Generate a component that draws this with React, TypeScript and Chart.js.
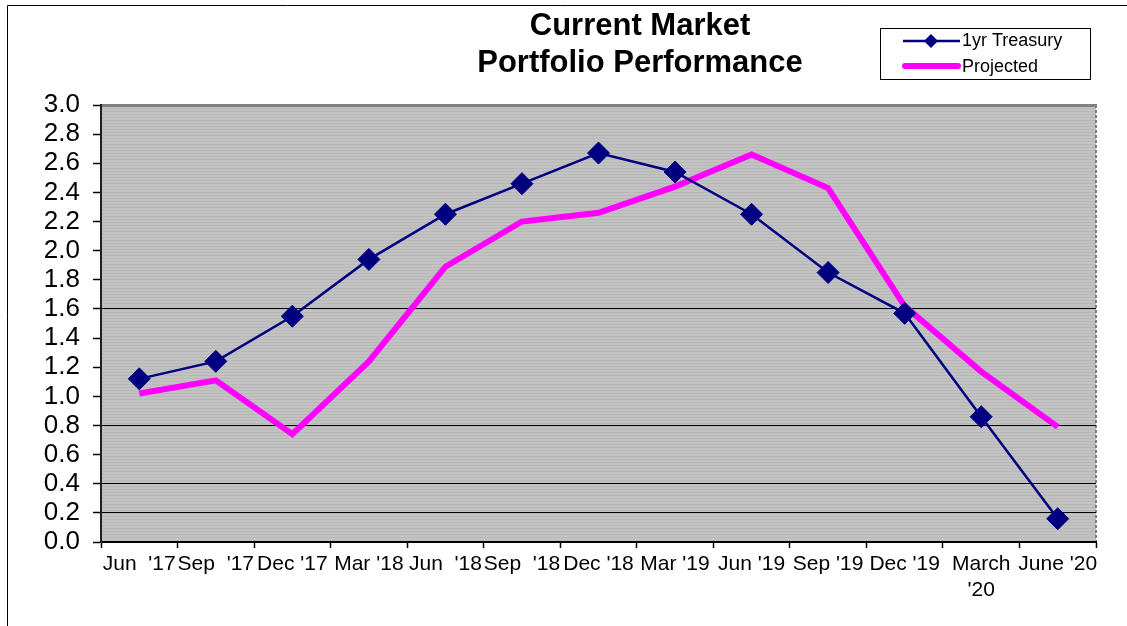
import React, { useEffect, useRef } from "react";
import { Chart, registerables } from "chart.js";

Chart.register(...registerables);

const categories: (string | string[])[] = [
  "Jun  '17", "Sep  '17", "Dec '17", "Mar '18", "Jun  '18", "Sep  '18", "Dec '18",
  "Mar '19", "Jun '19", "Sep '19", "Dec '19", ["March", "'20"], "June '20",
];
const treasury = [1.12, 1.24, 1.55, 1.94, 2.25, 2.46, 2.67, 2.54, 2.25, 1.85, 1.57, 0.86, 0.16];
const projected = [1.02, 1.11, 0.74, 1.24, 1.89, 2.2, 2.26, 2.44, 2.66, 2.43, 1.62, 1.17, 0.79];
const gridValues = [0.2, 0.4, 0.8, 1.6];
const titleLines = ["Current Market", "Portfolio Performance"];
const seriesNames = ["1yr Treasury", "Projected"];

const FONT = "'Liberation Sans', Arial, sans-serif";
const NAVY = "#000080";
const MAGENTA = "#FF00FF";

const decorPlugin = {
  id: "decor",
  beforeDraw(chart: any) {
    const { ctx, chartArea: a } = chart;
    ctx.save();
    ctx.fillStyle = "#C2C2C2";
    ctx.fillRect(a.left, a.top, a.right - a.left, a.bottom - a.top);
    ctx.fillStyle = "#B8B8B8";
    for (let y = a.top; y < a.bottom; y += 3) {
      ctx.fillRect(a.left, y, a.right - a.left, 1);
    }
    ctx.strokeStyle = "#808080";
    ctx.lineWidth = 3;
    ctx.beginPath();
    ctx.moveTo(a.left, a.top + 0.5);
    ctx.lineTo(a.right + 1, a.top + 0.5);
    ctx.stroke();
    ctx.lineWidth = 2;
    ctx.setLineDash([3, 2]);
    ctx.beginPath();
    ctx.moveTo(a.right, a.top);
    ctx.lineTo(a.right, a.bottom);
    ctx.stroke();
    ctx.setLineDash([]);
    ctx.strokeStyle = "#000";
    ctx.lineWidth = 1;
    ctx.beginPath();
    ctx.moveTo(7.5, 626);
    ctx.lineTo(7.5, 5.5);
    ctx.lineTo(1127, 5.5);
    ctx.stroke();
    ctx.restore();
  },
  afterDraw(chart: any) {
    const { ctx } = chart;
    ctx.save();
    ctx.fillStyle = "#000";
    ctx.font = `bold 31px ${FONT}`;
    ctx.textAlign = "center";
    ctx.textBaseline = "middle";
    ctx.fillText(titleLines[0], 640, 26);
    ctx.fillText(titleLines[1], 640, 63);
    ctx.strokeStyle = "#000";
    ctx.lineWidth = 1;
    ctx.fillStyle = "#fff";
    ctx.fillRect(880.5, 28.5, 210, 51);
    ctx.strokeRect(880.5, 28.5, 210, 51);
    ctx.strokeStyle = NAVY;
    ctx.lineWidth = 2.5;
    ctx.beginPath();
    ctx.moveTo(903, 41);
    ctx.lineTo(960, 41);
    ctx.stroke();
    ctx.fillStyle = NAVY;
    ctx.beginPath();
    ctx.moveTo(931, 34);
    ctx.lineTo(938, 41);
    ctx.lineTo(931, 48);
    ctx.lineTo(924, 41);
    ctx.closePath();
    ctx.fill();
    ctx.strokeStyle = MAGENTA;
    ctx.lineWidth = 6;
    ctx.lineCap = "round";
    ctx.beginPath();
    ctx.moveTo(905, 66);
    ctx.lineTo(958, 66);
    ctx.stroke();
    ctx.fillStyle = "#000";
    ctx.font = `18px ${FONT}`;
    ctx.textAlign = "left";
    ctx.textBaseline = "middle";
    ctx.fillText(seriesNames[0], 962, 41);
    ctx.fillText(seriesNames[1], 962, 67);
    ctx.restore();
  },
};

export default function App() {
  const ref = useRef<HTMLCanvasElement>(null);
  useEffect(() => {
    if (!ref.current) return;
    const chart = new Chart(ref.current, {
      type: "line",
      data: {
        labels: categories,
        datasets: [
          {
            label: seriesNames[0],
            data: treasury,
            borderColor: NAVY,
            backgroundColor: NAVY,
            borderWidth: 2.5,
            pointStyle: "rectRot",
            pointRadius: 11,
            pointBorderWidth: 1,
            pointBackgroundColor: NAVY,
            pointBorderColor: NAVY,
            tension: 0,
            order: 1,
          },
          {
            label: seriesNames[1],
            data: projected,
            borderColor: MAGENTA,
            backgroundColor: MAGENTA,
            borderWidth: 6,
            pointRadius: 0,
            tension: 0,
            order: 2,
          },
        ],
      },
      options: {
        responsive: false,
        animation: false,
        layout: { padding: { left: 0, right: 31, top: 105, bottom: 0 } },
        plugins: {
          legend: { display: false },
          title: { display: false },
          tooltip: { enabled: false },
        },
        scales: {
          x: {
            offset: true,
            grid: {
              offset: true,
              drawOnChartArea: false,
              drawTicks: true,
              tickLength: 6,
              tickColor: "#000",
              tickWidth: 1.5,
            },
            border: { color: "#000", width: 2 },
            ticks: {
              color: "#000",
              font: { family: FONT, size: 21 },
              padding: 4,
              maxRotation: 0,
              minRotation: 0,
              autoSkip: false,
            },
            afterFit(scale: any) {
              scale.height = 84;
            },
          },
          y: {
            min: 0,
            max: 3,
            grid: {
              color: (c: any) => {
                const v = c.tick ? c.tick.value : -1;
                return gridValues.some((g) => Math.abs(g - v) < 1e-6) ? "#000" : "rgba(0,0,0,0)";
              },
              lineWidth: 1,
              tickColor: "#000",
              tickLength: 8,
              tickWidth: 1.5,
            },
            border: { color: "#202020", width: 2 },
            ticks: {
              stepSize: 0.2,
              autoSkip: false,
              color: "#000",
              font: { family: FONT, size: 26 },
              padding: 13,
              callback: (v: any) => Number(v).toFixed(1),
            },
            afterFit(scale: any) {
              scale.width = 101;
            },
          },
        },
      },
      plugins: [decorPlugin],
    });
    return () => chart.destroy();
  }, []);
  return (
    <div style={{ position: "absolute", left: 0, top: 0, width: 1127, height: 626, background: "#fff" }}>
      <canvas ref={ref} width={1127} height={626} />
    </div>
  );
}
